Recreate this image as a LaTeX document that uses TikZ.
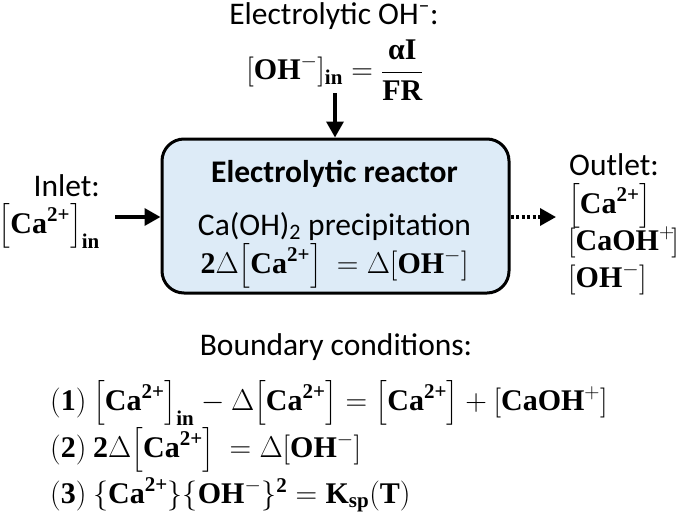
\documentclass[tikz,border=0pt]{standalone}
\usepackage{fix-cm}
\usepackage{amsmath}
\usepackage[no-math]{fontspec}
\setmainfont{Carlito}
\newfontfamily\eqfont{Liberation Serif}
\newcommand{\eb}[1]{\text{\eqfont\bfseries #1}}
\usetikzlibrary{arrows.meta}
\definecolor{reactorblue}{HTML}{DDEBF7}

\begin{document}
\begin{tikzpicture}[x=1pt, y=-1pt,
        lbl/.style={font=\fontsize{31.5}{38}\selectfont, inner sep=0pt},
        eq/.style={font=\fontsize{30}{36}\selectfont, inner sep=0pt},
        reactor/.style={draw, line width=3pt, fill=reactorblue, rounded corners=22pt, minimum width=347pt, minimum height=154pt},
        flow/.style={line width=3.5pt, -{Triangle[length=16pt, width=17pt]}}]
            \useasboundingbox (0,0) rectangle (679,517);
            % reactor and its contents
            \node[reactor] (reactor) at (335.5,216) {};
            \node[lbl, anchor=base] (rtitle) at (334.5,182) {\textbf{Electrolytic reactor}};
            \node[lbl, anchor=base] (precip) at (334.5,235) {Ca(OH)\textsubscript{2} precipitation};
            \node[eq, anchor=base] (balance) at (334.5,273) {$\eb{2}\Delta\bigl[\eb{Ca}^{\eb{2+}}\bigr]\ =\Delta[\eb{OH}^{-}]$};
            % electrolytic OH- feed
            \node[lbl, anchor=base] (ohtitle) at (334,24) {Electrolytic OH\textsuperscript{–}:};
            \node[eq] (ohin) at (335,70) {$[\eb{OH}^{-}]_{\eb{in}}=\dfrac{\eb{αI}}{\eb{FR}}$};
            \coordinate (ohfeed) at (335,93);
            \draw[flow] (ohfeed) -- (ohfeed |- reactor.north);
            % inlet
            \node[lbl, anchor=base east] (inlet) at (100,196) {Inlet:};
            \node[eq, anchor=base east] (cain) at (100,233) {$\bigl[\eb{Ca}^{\eb{2+}}\bigr]_{\eb{in}}$};
            \coordinate (infeed) at (115,217);
            \draw[flow] (infeed) -- (infeed -| reactor.west);
            % outlet
            \node[lbl, anchor=base west] (outlet) at (569,175) {Outlet:};
            \node[eq, anchor=base west] (caout) at (568,213) {$\bigl[\eb{Ca}^{\eb{2+}}\bigr]$};
            \node[eq, anchor=base west] (caohout) at (568,250) {$[\eb{CaOH}^{+}\mkern-2mu]$};
            \node[eq, anchor=base west] (ohout) at (568,287) {$[\eb{OH}^{-}]$};
            \coordinate (outend) at (556,217);
            \draw[flow, dash pattern=on 3pt off 2.5pt] (reactor.east |- outend) -- (outend);
            % boundary conditions
            \node[lbl, anchor=base] (bctitle) at (336,355) {Boundary conditions:};
            \node[eq, anchor=base west] (bc1) at (50,410) {$(\eb{1})\ \bigl[\eb{Ca}^{\eb{2+}}\bigr]_{\eb{in}}-\Delta\bigl[\eb{Ca}^{\eb{2+}}\bigr]=\bigl[\eb{Ca}^{\eb{2+}}\bigr]+[\eb{CaOH}^{+}]$};
            \node[eq, anchor=base west] (bc2) at (50,457) {$(\eb{2})\ \eb{2}\Delta\bigl[\eb{Ca}^{\eb{2+}}\bigr]\ =\Delta[\eb{OH}^{-}]$};
            \node[eq, anchor=base west] (bc3) at (50,503) {$(\eb{3})\ \{\eb{Ca}^{\eb{2+}}\}\{\eb{OH}^{-}\}^{\eb{2}}=\eb{K}_{\eb{sp}}(\eb{T})$};
        \end{tikzpicture}
\end{document}
